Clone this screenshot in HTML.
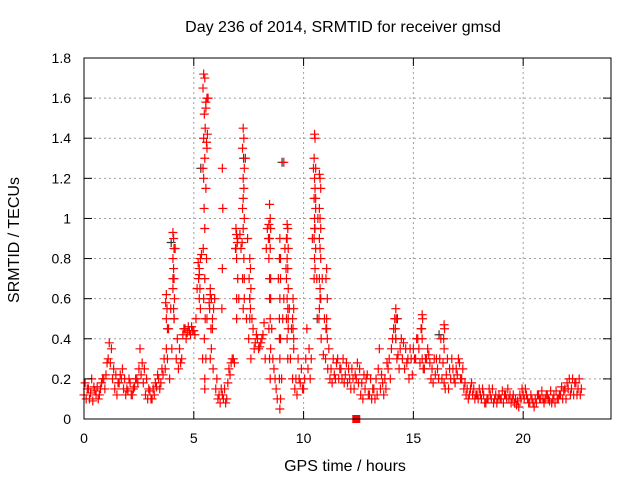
<!DOCTYPE html>
<html><head><meta charset="utf-8"><style>
body{margin:0;background:#fff;}
svg{display:block;font-family:"Liberation Sans",sans-serif;}
</style></head><body>
<svg id="chart" width="640" height="480">
<rect width="640" height="480" fill="#fff"/>
<g id="grid"></g>
<g id="marks"></g>
<rect x="84" y="58" width="527" height="361" fill="none" stroke="#000" stroke-width="1"/>
<g id="ticks"></g>
<text x="343" y="32" font-size="16" text-anchor="middle">Day 236 of 2014, SRMTID for receiver gmsd</text>
<text x="345" y="471" font-size="16" text-anchor="middle">GPS time / hours</text>
<text transform="translate(19,240) rotate(-90)" font-size="16" text-anchor="middle">SRMTID / TECUs</text>
</svg>
<script>
const xTicks=[0,5,10,15,20];
const yTicks=[0,0.2,0.4,0.6,0.8,1,1.2,1.4,1.6,1.8];
const yTickLabels=["0","0.2","0.4","0.6","0.8","1","1.2","1.4","1.6","1.8"];
const seriesA=[.12,.1,.15,.13,.09,.14,.16,.12,.18,.2,
.22,.3,.28,.2,.15,.12,.18,.2,.15,.12,
.14,.18,.12,.16,.2,.25,.22,.18,.12,.1,
.14,.1,.12,.16,.2,.18,.22,.25,.3,.2,
.35,.5,.3,.25,.28,.42,.45,.43,.44,.46,
.44,.5,.78,.8,.3,.15,.5,.58,.6,.55,
.15,.1,.08,.12,.15,.1,.25,.28,.3,.85,
.9,.92,.88,.7,.5,.4,.3,.45,.38,.4,
.36,.4,.48,.85,.9,.6,.3,.2,.1,.4,
.2,.6,.75,.5,.3,.2,.15,.12,.2,.25,
.15,.3,.25,.2,.9,.95,.7,.5,.4,.32,
.3,.25,.2,.18,.22,.28,.2,.25,.3,.22,
.18,.2,.25,.15,.2,.18,.12,.1,.15,.22,
.12,.1,.15,.2,.25,.15,.18,.2,.28,.3,
.35,.45,.4,.32,.35,.3,.25,.28,.2,.3,
.35,.3,.4,.28,.3,.25,.3,.32,.2,.18,
.22,.25,.3,.2,.18,.22,.15,.2,.25,.18,
.22,.28,.2,.15,.12,.1,.15,.12,.1,.12,
.15,.1,.12,.08,.1,.12,.15,.1,.08,.12,
.1,.08,.12,.15,.12,.1,.08,.07,.06,.1,
.12,.15,.1,.08,.1,.06,.08,.12,.1,.1,
.1,.12,.09,.08,.12,.14,.1,.12,.1,.15,
.18,.2,.15,.12,.18,.15,.12];
const seriesB=[.18,.15,.1,.2,.16,.12,.1,.15,.2,.15,
.28,.38,.35,.25,.22,.18,.22,.25,.2,.15,
.2,.12,.15,.2,.18,.35,.28,.25,.2,.15,
.1,.15,.18,.22,.15,.25,.3,.35,.45,.55,
.7,.85,.4,.35,.3,.45,.4,.46,.42,.44,
.42,.65,.72,.82,1.2,1.55,1.6,.62,.45,.6,
.2,.12,.15,.1,.08,.18,.22,.3,.28,.5,
.6,.85,1.1,1.3,.9,.6,.5,.35,.42,.35,
.38,.42,.3,.95,.7,.45,.25,.15,.7,.8,
.5,.85,.9,.55,.45,.35,.2,.3,.18,.15,
.2,.45,.35,.3,1.25,1.1,1.0,.6,.7,.5,
.45,.35,.25,.3,.2,.3,.25,.2,.18,.28,
.25,.15,.2,.22,.28,.25,.18,.22,.2,.12,
.2,.15,.1,.12,.35,.22,.12,.15,.25,.2,
.4,.5,.3,.25,.4,.38,.35,.3,.35,.22,
.3,.4,.35,.45,.25,.3,.35,.28,.25,.3,
.3,.2,.4,.28,.15,.3,.25,.3,.2,.25,
.3,.2,.25,.18,.15,.12,.18,.15,.12,.1,
.12,.15,.08,.1,.15,.1,.08,.12,.1,.1,
.14,.12,.1,.1,.08,.12,.1,.09,.12,.15,
.1,.12,.08,.12,.08,.1,.12,.1,.14,.08,
.12,.1,.14,.1,.08,.1,.12,.16,.14,.1,
.15,.12,.2,.18,.12,.2,.15];
const streakTimes=[5.45,5.5,5.42,5.55,5.48,5.52,5.45,5.6,5.5,5.42,5.55,5.47,5.5,5.43,5.58,5.5,5.45,5.52,5.48,5.55,5.5,5.6,5.62,5.58,
5.25,5.22,5.28,5.25,5.3,
5.75,5.8,5.72,5.85,5.78,5.8,5.75,5.88,
6.3,6.32,6.3,6.28,
4.05,4.08,4.1,4.05,4.08,4.1,4.05,4.12,4.08,4.1,
3.75,3.72,3.78,3.75,3.8,
7.25,7.28,7.22,7.3,7.25,7.28,7.22,7.3,7.25,7.28,7.22,7.3,7.25,
6.92,6.95,6.98,6.92,6.95,7.0,6.95,
7.55,7.58,7.52,7.6,7.55,7.58,7.55,
8.45,8.48,8.42,8.5,8.45,8.48,8.42,8.5,8.45,8.48,8.42,8.5,8.45,8.48,
8.92,8.9,8.95,8.92,8.9,8.95,8.92,8.9,8.95,8.92,
9.1,
9.25,9.28,9.22,9.3,9.25,9.28,9.22,9.3,9.25,9.28,9.22,9.3,9.25,9.28,
9.52,9.55,9.5,9.52,9.55,
10.5,10.52,10.48,10.55,10.5,10.52,10.48,10.55,10.5,10.52,10.48,10.55,10.5,10.52,10.48,
10.72,10.75,10.78,10.72,10.75,10.78,10.72,10.75,10.78,10.72,10.75,10.78,10.72,
11.05,11.02,11.08,11.05,11.02,11.08,
14.2,14.22,14.18,14.2,
15.4,15.42,15.38,15.4,
16.4,16.42,16.38,16.4];
const streakValues=[1.72,1.7,1.65,1.58,1.52,1.45,1.4,1.35,1.3,1.25,1.15,1.05,0.95,0.85,0.8,0.7,0.6,0.5,0.4,0.3,0.2,1.6,1.42,1.38,
.75,.7,.65,.6,.55,
.65,.6,.55,.5,.45,.35,.3,.25,
1.25,1.05,.75,.55,
.93,.9,.85,.8,.75,.7,.65,.6,.55,.5,
.62,.58,.55,.5,.45,
1.45,1.4,1.35,1.25,1.2,1.15,1.05,1.0,.95,.8,.7,.6,.55,
.95,.92,.88,.85,.8,.7,.6,
.8,.75,.7,.65,.6,.55,.5,
1.07,1.0,.97,.95,.9,.85,.8,.7,.6,.5,.45,.35,.3,.2,
.9,.8,.7,.6,.5,.4,.3,.2,.1,.05,
1.28,
.97,.95,.9,.85,.8,.75,.7,.65,.6,.55,.5,.45,.4,.3,
.6,.55,.5,.45,.4,
1.42,1.4,1.3,1.25,1.2,1.15,1.1,1.05,1.0,.95,.9,.85,.8,.75,.7,
1.22,1.2,1.15,1.05,1.0,.95,.9,.85,.8,.7,.65,.6,.55,
.75,.7,.6,.5,.45,.4,
.55,.5,.45,.4,
.52,.5,.45,.4,
.47,.45,.4,.35];
const blackTimes=[4.0,5.35,7.3,9.05,10.65,14.3,16.2];
const blackValues=[0.88,1.25,1.3,1.28,0.5,0.5,0.42];
const markerTime=[12.4];
const markerValue=[0];

const X0=84,X1=611,Y0=419,Y1=58,XMAX=24,YMAX=1.8;
const sx=t=>X0+t/XMAX*(X1-X0);
const sy=v=>Y0-v/YMAX*(Y0-Y1);
const NS="http://www.w3.org/2000/svg";
const grid=document.getElementById('grid'),ticks=document.getElementById('ticks'),marks=document.getElementById('marks');
function mk(tag,attrs,parent){const e=document.createElementNS(NS,tag);for(const k in attrs)e.setAttribute(k,attrs[k]);parent.appendChild(e);return e;}
yTicks.forEach((v,i)=>{
  const y=sy(v);
  if(v>0&&v<YMAX){const g=mk('line',{x1:X0,x2:X1,y1:y,y2:y,stroke:'#a0a0a0','stroke-dasharray':'2,3'},grid);
  
  }
  mk('line',{x1:X0,x2:X0+8,y1:y,y2:y,stroke:'#000'},ticks);
  mk('line',{x1:X1,x2:X1-8,y1:y,y2:y,stroke:'#000'},ticks);
  const t=mk('text',{x:X0-13,y:y+5,'font-size':14,'text-anchor':'end'},ticks);
  t.textContent=yTickLabels[i];
  
  
});
xTicks.forEach(v=>{
  const x=sx(v);
  if(v>0){const g=mk('line',{x1:x,x2:x,y1:Y0,y2:Y1,stroke:'#a0a0a0','stroke-dasharray':'2,3'},grid);
  
  }
  mk('line',{x1:x,x2:x,y1:Y0,y2:Y0-8,stroke:'#000'},ticks);
  mk('line',{x1:x,x2:x,y1:Y1,y2:Y1+8,stroke:'#000'},ticks);
  const t=mk('text',{x:x,y:Y0+24,'font-size':14,'text-anchor':'middle'},ticks);
  t.textContent=String(v);
  
  
});
function cross(t,v,color,name){
  const x=sx(t),y=sy(v);
  const p=mk('path',{d:`M${x-4.5},${y}H${x+4.5}M${x},${y-4.5}V${y+4.5}`,stroke:color,'stroke-width':1.2,fill:'none'},marks);
  
  
}
blackTimes.forEach((t,i)=>cross(t-0.03,blackValues[i],'#333','black-point'));
seriesA.forEach((v,i)=>cross(i*0.1,v,'#f00','series-a-point'));
seriesB.forEach((v,i)=>cross(i*0.1+0.05,v,'#f00','series-b-point'));
streakTimes.forEach((t,i)=>cross(t,streakValues[i],'#f00','streak-point'));
markerTime.forEach((t,i)=>{
  const r=mk('rect',{x:sx(t)-4,y:sy(markerValue[i])-4,width:8,height:8,fill:'#f00'},marks);
  
  
});
</script>
</body></html>
